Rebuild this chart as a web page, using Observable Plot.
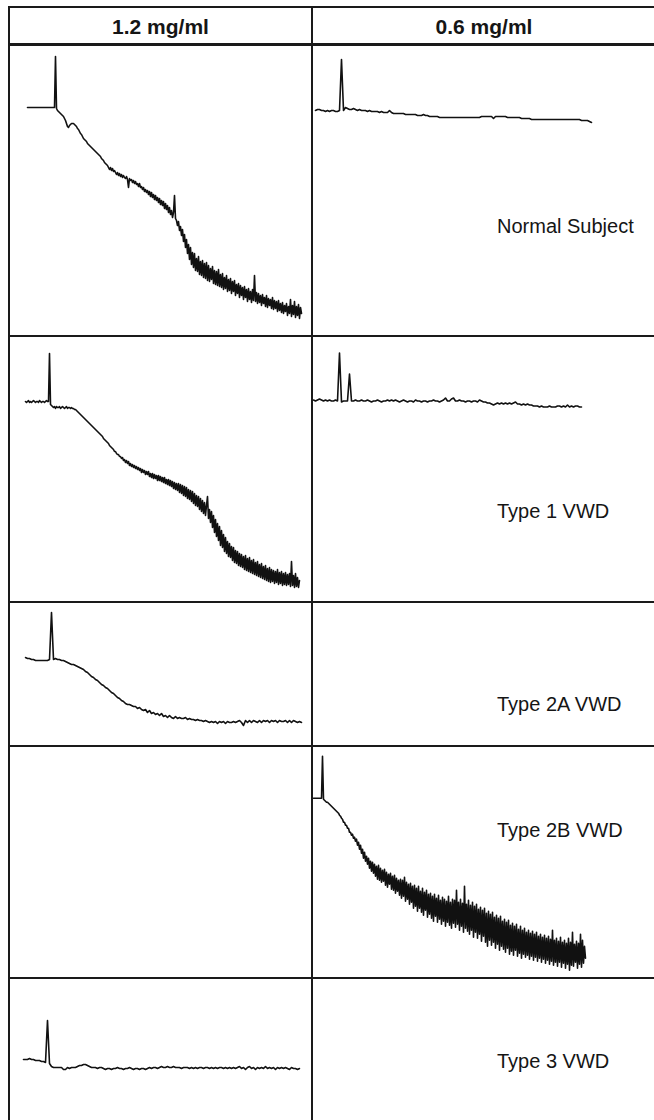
<!DOCTYPE html>
<html>
<head>
<meta charset="utf-8">
<script src="https://cdn.jsdelivr.net/npm/d3@7"></script>
<script src="https://cdn.jsdelivr.net/npm/@observablehq/plot@0.6"></script>
<style>
  html, body { margin: 0; padding: 0; background: #fff; overflow: hidden; width: 654px; height: 1120px; }
  #fig { position: relative; width: 654px; height: 1120px; font-family: "Liberation Sans", Arial, Helvetica, sans-serif; color: #151515; }
  .rule { position: absolute; background: #1a1a1a; }
  .cell { position: absolute; overflow: hidden; }
  .cell svg { display: block; background: transparent !important; }
  .head { position: absolute; font-weight: bold; font-size: 21px; line-height: 21px; text-align: center; white-space: nowrap; }
  .label { position: absolute; font-size: 20px; line-height: 20px; white-space: nowrap; }
</style>
</head>
<body>
<div id="fig"></div>
<script>
// Ristocetin concentrations (columns) and subjects (rows)
const concentrations = ["1.2 mg/ml", "0.6 mg/ml"];
const subjects = ["Normal Subject", "Type 1 VWD", "Type 2A VWD", "Type 2B VWD", "Type 3 VWD"];

// Aggregometer pen deflection below the pre-agonist baseline (mm).
// Negative values are the upward artefact when ristocetin is added.
// Noisy recordings are digitised every 2 s, the quiet ones every 4 s.
const normal12 = [0,0,0,0,0,0,0,0,0,0,0,0,0,0,0,0,0,0,0,0,0,0,0,0,0,0,0,0,-25.5,0.5,1.5,2,2.5,3,3.5,4,4.5,5.5,6.5,8,9.5,10,9,8.5,8,8,8,8.5,9,9.5,10.5,11,12,13,13.5,14.5,15.5,16,16.5,17,18,18.5,19,19.5,20,20.5,21,21.5,22,22.5,23,23.5,24,24.5,25.5,26,26.5,27.5,28,28.5,29,30,31,30,31.5,30.5,32,31.5,32.5,33.5,32.5,34,33,34.5,33.5,35,34,35,35.5,34.5,36,40,35.5,36.5,36,37.5,36.5,38,37,38.5,38,39.5,38,40,39.5,41,40,42,41,42.5,41.5,43.5,42,44.5,42.5,45,43.5,46,44,46.5,45,47.5,45.5,48.5,46.5,49,47,50.5,48,51,49,52.5,50,53.5,51.5,55,52.5,44,55.5,56.5,59,57,61.5,59.5,64,61,67,63.5,70,66,73,68.5,76,70,78.5,72.5,80,73,81.5,75.5,82,74.5,83.5,77,84,76.5,85,78,85.5,77.5,86.5,79,87,80.5,86,79.5,88,81.5,88.5,82,89,81,89.5,83.5,90,83,91,85,90.5,84,92,86,91.5,85.5,93,87,92,86.5,94,88.5,93,88,95,89,94,90,96,89.5,95,91,97,90.5,96,92,97.5,91,96.5,84,97,92.5,98,93,97.5,94,99,93.5,98,95,99.5,94,100,95.5,99,96,100.5,95,101,96.5,100.5,97,102,96.5,101.5,98,102.5,97.5,103,99,102,98,104,99.5,103,96,104.5,99,103.5,97,105,99.5,104,98.5,105.5,100,103];
const normal06 = [0,-0.5,-0.5,0,0,0.5,0,0.5,0,0,0.5,0.5,0,-25.5,0,-1.5,-1,-0.5,-0.5,-1,-0.5,0,-0.5,0,0,0,0.5,0,0.5,0.5,0.5,0.5,1,0.5,1,1,1,0,1,1.5,1.5,1.5,1.5,1.5,1.5,2,2,2,2,2,2,2.5,2.5,2.5,2,2.5,2.5,3,3,3,3,3,3.5,3.5,3.5,3.5,3.5,3.5,3.5,3.5,3.5,3.5,3.5,3.5,3.5,3.5,3.5,3.5,3.5,3.5,3.5,3.5,3.5,3,3,3,3,3,3,4,3,3,3,3,3,3,3.5,3.5,3.5,3.5,3.5,3.5,3.5,4,4,4,4,4,4.5,4.5,4.5,4.5,4.5,4.5,4.5,4.5,4.5,4.5,4.5,4.5,4.5,4.5,4.5,4.5,4.5,4.5,4.5,4.5,4.5,4.5,4.5,4.5,4.5,5,5,5,5,5.5,6];
const type1_12 = [0,0.5,0,-0.5,0.5,0,0.5,0,-0.5,0,0.5,0,0,0.5,-0.5,0,0.5,0,0,0.5,0,-0.5,0,0,-24,1.5,2,2.5,3,2.5,3.5,2.5,3,3,2.5,3.5,3,2.5,3,3.5,3,2.5,3.5,3,3,3.5,3,3.5,3.5,4,4,4.5,5,5.5,6,6.5,7,7.5,8,8.5,9,9.5,10,10.5,11,11.5,12,12.5,13,13.5,14,14.5,15,15.5,16,16.5,17,17.5,18.5,19,19.5,20,20.5,21,22,22.5,23,23.5,24,25,25,26,26.5,26.5,27.5,27.5,28.5,28,29.5,29,30.5,29.5,31,30,32,31,32.5,31.5,33,32,33.5,32.5,34,33,34.5,33.5,35.5,34,35.5,34.5,36.5,35,36.5,35,37.5,36,38,36,38.5,36.5,38.5,37,39.5,37,39.5,37.5,40,38,40.5,38,41,39,41.5,39,42,39.5,42.5,40,43.5,40.5,44,41,44.5,41,45.5,41.5,46,42,47,42.5,47.5,43,48.5,44,49,44.5,50,45,51,46,52,47,52.5,47.5,54,48.5,55,49.5,56,50.5,57,52,47.5,58.5,54,60.5,55,63,57,65.5,59,67.5,61,69.5,62.5,72,64.5,73,66.5,75,68,76,70,77.5,71,78,72.5,79.5,73,80.5,74.5,81,75,82,76,82.5,76.5,83,77.5,84,77,84.5,78.5,85,78,85.5,79.5,86,79,86.5,80.5,87,80,87.5,81.5,88,81,88.5,82.5,89,82,89.5,83.5,90,83,90.5,84,90,84.5,91,85,90.5,84,91.5,85.5,91,85,92,86,91.5,85.5,92,86.5,91.5,86,92.5,80,92,87,93,86,92.5,88,93,89.5];
const type1_06 = [0,0.5,0,-0.5,0,0.5,0,0.5,0,0.5,0.5,0,0.5,-23.5,1,0.5,0.5,0.5,-13,0.5,0.5,0,0.5,0.5,0,0.5,0.5,0,0.5,1,0.5,0.5,0,0.5,1,0.5,0.5,0,0.5,0,0.5,0,0.5,1,0.5,0,0.5,1,0.5,0.5,1,0,0.5,0.5,1,0.5,0.5,1,0.5,0.5,0,0.5,0.5,1,0.5,0,-1,0.5,0.5,-0.5,-1,0.5,0.5,0,0.5,0.5,1,0.5,0.5,1,0.5,0.5,1,0,0.5,1,1,1.5,1.5,2,2.5,2,1.5,2,1.5,2,1.5,2,1.5,2,1.5,1,2,2,2.5,2,2.5,2,2.5,2.5,3,3,3,3.5,3,3.5,3.5,3.5,3,3.5,3.5,3.5,3,3,3.5,3,3.5,2.5,3.5,3,3.5,3,3,3.5,3.5];
const type2A_12 = [0,0.5,0.5,1,1,1.5,1.5,1.5,1.5,1.5,1.5,1.5,1,-22.5,1,0.5,1,1,1.5,1.5,2,2.5,3,3.5,3.5,4,4.5,5,5.5,6,7,7.5,8.5,9.5,10,11,11.5,12.5,13.5,14,15,15.5,16.5,17.5,18,19,20,20.5,21.5,22,23,23.5,23.5,24,24.5,24.5,25.5,25,26,26.5,26,27.5,26.5,28,27.5,28.5,28,29,28,29.5,29,30,29,30,30.5,29.5,30.5,30,30.5,30.5,30,31,30.5,31,31,31.5,31,31.5,31.5,32,31.5,32,32.5,32,32.5,32,33,32,32.5,32,33,32,32.5,32.5,32,32.5,32,31.5,32.5,34,31.5,32.5,31.5,32.5,31.5,32,32.5,31.5,32.5,31.5,32,31.5,32.5,31.5,32,31.5,32.5,31.5,32,32,31.5,32.5,31.5,32.5,31.5,32,32.5,32,32.5];
const type2B_06 = [0,0,0,0,0,0,0,0,0,-21,0.5,1,1.5,2,2,2.5,3,3.5,4,4.5,5,5.5,6,6.5,7,7.5,8.5,9,10,10.5,12,12,13.5,13.5,15,15,17,17,18.5,18,20,19.5,21.5,20.5,23.5,22,25.5,23.5,27.5,25.5,30,27,31.5,29,33,30,35,31.5,36.5,32,37.5,33,39,34,40.5,33.5,41,35,42,36,41.5,35.5,43.5,37,44.5,38,43,37.5,45.5,39,46,38.5,47.5,40,46.5,41,48.5,40.5,50,41,49,39.5,51.5,42,50.5,43,53,42.5,52,44,55,43.5,54,45,56.5,44,55,46.5,57,45,58.5,47,56,46,59.5,48,58,47.5,60,49,61.5,48,59,50,62,48.5,60.5,51,63,49.5,61.5,50.5,64,51.5,62,49,63.5,52,65,50.5,62.5,51,64.5,46,63,52,66,50.5,64,52.5,67,44,65,53,66.5,51,68,53.5,66,52,69.5,54,67,53,70,55.5,68,54.5,71.5,56,69,55,72,57.5,74,56.5,71,58,73.5,57,72,59.5,75,58.5,73,60,76,59,74,61.5,75.5,60.5,77,62,75,61,78,63.5,76.5,62.5,78.5,64,76,63,79,65.5,77.5,64,80,66,78,65,79.5,67,78.5,66,80.5,67.5,79,66.5,81,68,79.5,67,81.5,69,80,68,82,69.5,80.5,68.5,82.5,70,81,69,83,70.5,81.5,66,83.5,71,82,70,84,71.5,82,69.5,84.5,72,82.5,71,85,72.5,83,70,86,72,83.5,67,84,73,82,71.5,85,72.5,83,68,84.5,71,82.5,74,80];
const type3_12 = [0,0,0,-0.5,0,0,0.5,0.5,0.5,1,1,1.5,-19.5,2,3.5,4,4,4,4,4,5,5,4,4.5,4,4,4,3.5,3,3,2.5,2.5,3,3.5,4,4,4,4.5,4,4,4.5,5,4.5,4.5,5,4.5,4.5,4,4.5,4.5,5,4.5,4.5,4,4.5,5,4.5,4.5,5,4.5,4.5,5,4.5,4,4.5,4,4,4.5,4,3.5,4,4,3.5,4,4,3.5,4,4,4,4.5,4,4,4,4.5,4,4.5,4,4.5,4,4,4.5,4,4,4.5,4,4.5,4,4.5,4,4,4.5,4,4.5,4,4.5,4,4.5,4,3.5,4.5,4,5,4,3.5,4.5,4,5,4,4.5,4,4.5,3.5,4.5,4,4.5,4,5,4,4.5,4,4.5,4,4.5,5,4,4.5,4.5,5,4.5];

// Which recording goes in which cell of the table, and its sampling interval (s)
const panels = [
  {subject: 0, conc: 0, values: normal12, step: 2},
  {subject: 0, conc: 1, values: normal06, step: 4},
  {subject: 1, conc: 0, values: type1_12, step: 2},
  {subject: 1, conc: 1, values: type1_06, step: 4},
  {subject: 2, conc: 0, values: type2A_12, step: 4},
  {subject: 3, conc: 1, values: type2B_06, step: 2},
  {subject: 4, conc: 0, values: type3_12, step: 4}
];

// Recorder scales
const pxPerSecond = 0.5;   // chart speed
const pxPerMm = 2;         // pen deflection scale

// Table geometry
const colEdges = [9, 312, 656];
const rowEdges = [7, 44, 336, 602, 746, 978, 1130];
// where each trace starts inside its cell: [left offset, baseline offset]
const placement = {
  "0-0": [18, 63], "0-1": [3, 66],
  "1-0": [16, 65], "1-1": [1, 63.5],
  "2-0": [16, 55],
  "3-1": [1, 51.7],
  "4-0": [14, 81]
};
const labelLeft = 497;
const labelBaselines = [233, 518, 711, 837, 1068];
const headBaseline = 34;

const fig = document.getElementById("fig");

function tracePlot(values, step, w, h, lead, base) {
  const data = values.map((v, i) => ({t: i * step, v}));
  return Plot.plot({
    width: w,
    height: h,
    margin: 0,
    x: {domain: [-lead / pxPerSecond, (w - lead) / pxPerSecond], axis: null},
    y: {domain: [-base / pxPerMm, (h - base) / pxPerMm], reverse: true, axis: null},
    marks: [
      Plot.line(data, {x: "t", y: "v", stroke: "#111", strokeWidth: 1.6, strokeLinejoin: "round"})
    ]
  });
}

// Trace cells
for (const p of panels) {
  const r = p.subject, c = p.conc;
  const x0 = colEdges[c], x1 = colEdges[c + 1];
  const y0 = rowEdges[r + 1], y1 = rowEdges[r + 2];
  const w = x1 - x0, h = y1 - y0;
  const [lead, base] = placement[`${r}-${c}`];
  const div = document.createElement("div");
  div.className = "cell";
  div.style.left = x0 + "px";
  div.style.top = y0 + "px";
  div.style.width = w + "px";
  div.style.height = h + "px";
  div.appendChild(tracePlot(p.values, p.step, w, h, lead, base));
  fig.appendChild(div);
}

// Column headings
concentrations.forEach((txt, c) => {
  const d = document.createElement("div");
  d.className = "head";
  d.textContent = txt;
  d.style.left = colEdges[c] + "px";
  d.style.width = (colEdges[c + 1] - colEdges[c]) + "px";
  d.style.top = (headBaseline - 18) + "px";
  fig.appendChild(d);
});

// Subject labels in the right-hand column
subjects.forEach((txt, r) => {
  const d = document.createElement("div");
  d.className = "label";
  d.textContent = txt;
  d.style.left = labelLeft + "px";
  d.style.top = (labelBaselines[r] - 17) + "px";
  fig.appendChild(d);
});

// Table rules
function rule(x, y, w, h) {
  const d = document.createElement("div");
  d.className = "rule";
  d.style.left = x + "px";
  d.style.top = y + "px";
  d.style.width = w + "px";
  d.style.height = h + "px";
  fig.appendChild(d);
}
rowEdges.slice(0, 6).forEach((y, i) => {
  const t = i === 1 ? 3 : 2;
  rule(colEdges[0] - 1, y - t / 2, colEdges[2] - colEdges[0] + 2, t);
});
colEdges.forEach(x => rule(x - 1, rowEdges[0] - 1, 2, rowEdges[6] - rowEdges[0] + 2));
</script>
</body>
</html>
